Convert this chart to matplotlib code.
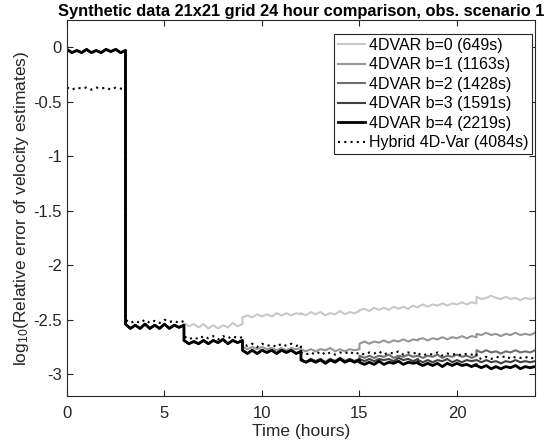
import numpy as np
import matplotlib
matplotlib.use('Agg')
import matplotlib.pyplot as plt

plt.rcParams['font.family'] = ['Liberation Sans', 'DejaVu Sans']
plt.rcParams['mathtext.default'] = 'regular'

# data: each 3 hour window sampled every 0.25 h (13 values incl. both ends)
window_starts = [0, 3, 6, 9, 12, 15, 18, 21]

solid_0_3 = [-0.02, -0.05, -0.03, -0.05, -0.02, -0.05, -0.03, -0.05, -0.02, -0.04, -0.02, -0.05, -0.03]
solid_3_6 = [-2.54, -2.58, -2.55, -2.58, -2.54, -2.58, -2.55, -2.58, -2.54, -2.58, -2.55, -2.57, -2.55]
solid_6_9 = [-2.69, -2.72, -2.70, -2.72, -2.69, -2.72, -2.69, -2.71, -2.68, -2.72, -2.69, -2.71, -2.69]
solid_9_12 = [-2.78, -2.81, -2.78, -2.81, -2.78, -2.80, -2.78, -2.81, -2.78, -2.80, -2.78, -2.81, -2.79]
solid_12_15 = [-2.86, -2.89, -2.86, -2.88, -2.86, -2.89, -2.86, -2.88, -2.85, -2.88, -2.86, -2.88, -2.86]

b0 = (solid_0_3 + solid_3_6
      + [-2.53, -2.56, -2.54, -2.57, -2.54, -2.58, -2.55, -2.58, -2.55, -2.57, -2.53, -2.56, -2.54]
      + [-2.48, -2.46, -2.48, -2.45, -2.47, -2.45, -2.47, -2.44, -2.46, -2.44, -2.46, -2.44, -2.45]
      + [-2.44, -2.46, -2.43, -2.45, -2.43, -2.46, -2.44, -2.45, -2.42, -2.45, -2.43, -2.44, -2.42]
      + [-2.41, -2.40, -2.42, -2.39, -2.41, -2.39, -2.41, -2.38, -2.40, -2.38, -2.40, -2.37, -2.39]
      + [-2.38, -2.36, -2.38, -2.36, -2.37, -2.35, -2.37, -2.35, -2.36, -2.34, -2.36, -2.34, -2.35]
      + [-2.29, -2.31, -2.30, -2.28, -2.30, -2.31, -2.29, -2.31, -2.30, -2.32, -2.30, -2.31, -2.30])

b1 = (solid_0_3 + solid_3_6 + solid_6_9
      + [-2.75, -2.77, -2.75, -2.77, -2.75, -2.77, -2.76, -2.78, -2.76, -2.78, -2.76, -2.77, -2.76]
      + [-2.77, -2.79, -2.77, -2.79, -2.77, -2.78, -2.76, -2.79, -2.77, -2.79, -2.77, -2.78, -2.77]
      + [-2.72, -2.70, -2.72, -2.70, -2.71, -2.69, -2.71, -2.69, -2.70, -2.68, -2.70, -2.68, -2.69]
      + [-2.68, -2.67, -2.69, -2.67, -2.68, -2.66, -2.68, -2.66, -2.67, -2.65, -2.67, -2.65, -2.66]
      + [-2.63, -2.64, -2.62, -2.64, -2.63, -2.65, -2.63, -2.64, -2.62, -2.64, -2.63, -2.64, -2.62])

b2 = (solid_0_3 + solid_3_6 + solid_6_9 + solid_9_12 + solid_12_15
      + [-2.83, -2.85, -2.83, -2.85, -2.83, -2.84, -2.82, -2.85, -2.83, -2.84, -2.82, -2.84, -2.83]
      + [-2.83, -2.85, -2.83, -2.84, -2.82, -2.85, -2.83, -2.84, -2.82, -2.84, -2.83, -2.85, -2.83]
      + [-2.78, -2.80, -2.78, -2.80, -2.79, -2.81, -2.79, -2.80, -2.78, -2.80, -2.79, -2.80, -2.78])

b3 = (solid_0_3 + solid_3_6 + solid_6_9 + solid_9_12 + solid_12_15
      + [-2.86, -2.88, -2.86, -2.88, -2.86, -2.87, -2.86, -2.88, -2.85, -2.87, -2.86, -2.88, -2.86]
      + [-2.87, -2.89, -2.87, -2.89, -2.87, -2.88, -2.86, -2.89, -2.87, -2.89, -2.87, -2.88, -2.87]
      + [-2.87, -2.89, -2.87, -2.89, -2.88, -2.90, -2.88, -2.89, -2.87, -2.89, -2.88, -2.89, -2.88])

b4 = (solid_0_3 + solid_3_6 + solid_6_9 + solid_9_12
      + [-2.87, -2.89, -2.87, -2.89, -2.87, -2.90, -2.87, -2.89, -2.86, -2.89, -2.87, -2.89, -2.87]
      + [-2.89, -2.91, -2.89, -2.91, -2.88, -2.91, -2.89, -2.90, -2.88, -2.91, -2.89, -2.90, -2.89]
      + [-2.90, -2.92, -2.90, -2.92, -2.90, -2.93, -2.90, -2.92, -2.90, -2.92, -2.91, -2.93, -2.91]
      + [-2.92, -2.94, -2.92, -2.95, -2.93, -2.95, -2.93, -2.94, -2.92, -2.95, -2.93, -2.94, -2.93])

hybrid = ([-0.37, -0.39, -0.37, -0.38, -0.37, -0.39, -0.37, -0.38, -0.37, -0.39, -0.37, -0.38, -0.38]
          + [-2.50, -2.53, -2.51, -2.53, -2.50, -2.53, -2.51, -2.53, -2.50, -2.52, -2.51, -2.53, -2.51]
          + [-2.65, -2.68, -2.66, -2.68, -2.65, -2.67, -2.65, -2.68, -2.65, -2.67, -2.65, -2.67, -2.66]
          + [-2.72, -2.74, -2.72, -2.75, -2.72, -2.74, -2.73, -2.75, -2.72, -2.74, -2.72, -2.74, -2.73]
          + [-2.80, -2.82, -2.80, -2.82, -2.79, -2.82, -2.80, -2.82, -2.80, -2.81, -2.79, -2.82, -2.80]
          + [-2.80, -2.82, -2.80, -2.81, -2.79, -2.82, -2.80, -2.81, -2.79, -2.82, -2.80, -2.81, -2.80]
          + [-2.81, -2.83, -2.81, -2.82, -2.80, -2.83, -2.81, -2.82, -2.81, -2.83, -2.81, -2.82, -2.81]
          + [-2.84, -2.86, -2.84, -2.86, -2.84, -2.85, -2.83, -2.86, -2.84, -2.85, -2.84, -2.86, -2.84])

labels = ['4DVAR b=0 (649s)', '4DVAR b=1 (1163s)', '4DVAR b=2 (1428s)',
          '4DVAR b=3 (1591s)', '4DVAR b=4 (2219s)', 'Hybrid 4D-Var (4084s)']

# time axis: windows share end points so the jumps are vertical
hours = np.concatenate([np.linspace(s, s + 3, 13) for s in window_starts])

fig = plt.figure(figsize=(5.49, 4.43), dpi=100)
ax = fig.add_axes([0.122, 0.106, 0.8525, 0.849])

series = [b0, b1, b2, b3, b4]
greys = ['#c8c8c8', '#969696', '#6e6e6e', '#404040', '#000000']
widths = [1.5, 1.5, 1.5, 1.5, 2.0]
for vals, col, lw, lab in zip(series, greys, widths, labels[:5]):
    ax.plot(hours, vals, color=col, lw=lw, label=lab)
ax.plot(hours, hybrid, color='black', lw=1.5, ls=(0, (1, 2)), label=labels[5])

ax.set_xlim(0, 24)
ax.set_ylim(-3.2, 0.25)
ax.set_xticks([0, 5, 10, 15, 20])
yt = [0, -0.5, -1, -1.5, -2, -2.5, -3]
ax.set_yticks(yt)
ax.set_yticklabels(['0', '-0.5', '-1', '-1.5', '-2', '-2.5', '-3'])
ax.tick_params(direction='in', top=True, right=True, labelsize=12, length=4,
               color='#262626', labelcolor='#262626')
ax.tick_params(axis='x', pad=7)
for sp in ax.spines.values():
    sp.set_color('#262626')
    sp.set_linewidth(0.8)

ax.set_xlabel('Time (hours)', fontsize=12.5, color='#262626', labelpad=2)
ax.set_ylabel('log$_{10}$(Relative error of velocity estimates)', fontsize=12.5,
              color='#262626', labelpad=2)
ax.set_title('Synthetic data 21x21 grid 24 hour comparison, obs. scenario 1',
             fontsize=11.8, fontweight='bold', pad=3)

leg = ax.legend(loc='upper right', bbox_to_anchor=(0.9936, 0.963), fontsize=11.5,
                handlelength=1.7, handletextpad=0.2, borderpad=0.25, labelspacing=0.28,
                fancybox=False, framealpha=1, borderaxespad=0)
leg.get_frame().set_edgecolor('#262626')
leg.get_frame().set_linewidth(0.8)

fig.savefig('out.png', dpi=100)
